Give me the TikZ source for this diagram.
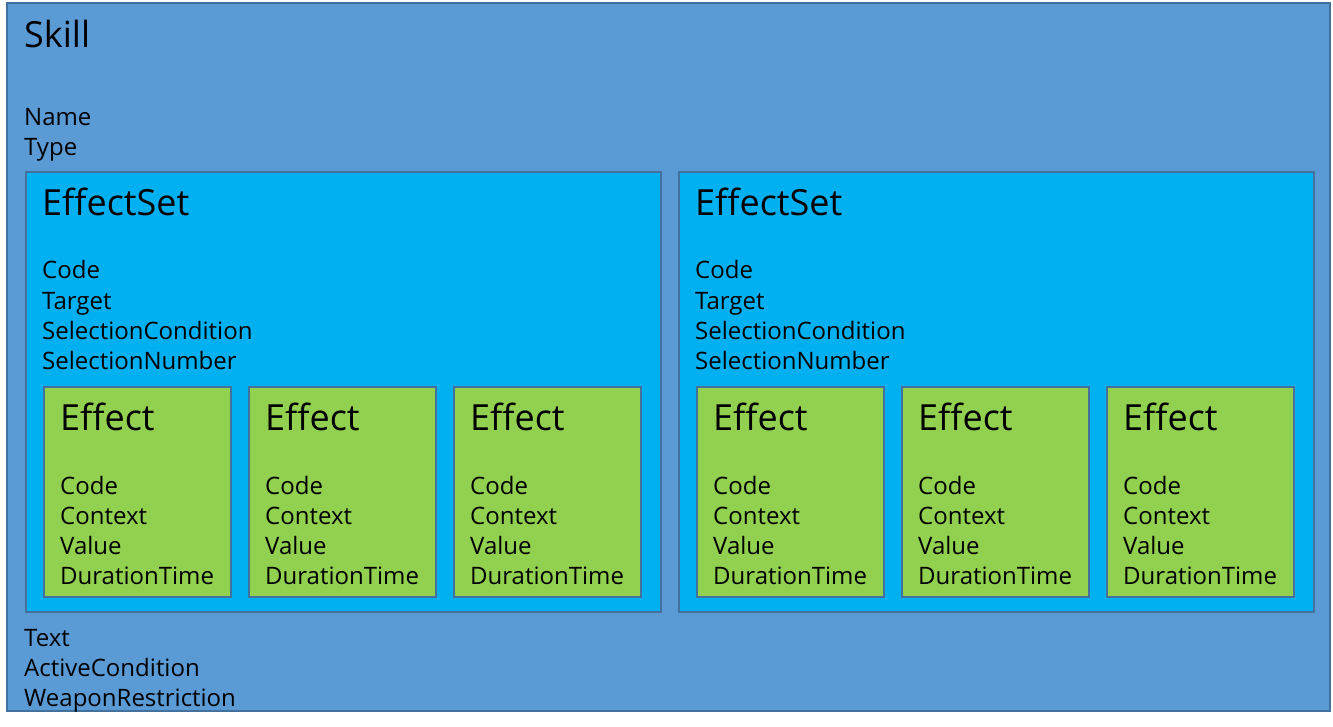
\documentclass[tikz,border=0pt]{standalone}
\usepackage{fontspec}
\setmainfont{Open Sans}
\definecolor{skillblue}{HTML}{5B9BD5}
\definecolor{setblue}{HTML}{00B0F0}
\definecolor{effgreen}{HTML}{92D050}
\definecolor{edgeblue}{HTML}{41719C}
\tikzset{
  box/.style={draw=edgeblue, line width=1.5pt},
  title/.style={anchor=base west, inner sep=0pt, font=\fontsize{36}{42}\selectfont},
  field/.style={anchor=base west, inner sep=0pt, font=\fontsize{24}{30}\selectfont},
}

\begin{document}
\begin{tikzpicture}[x=1pt,y=-1pt]
		\useasboundingbox (0,0) rectangle (1333,727);
		%%%%% SKILL %%%%%
		\draw[box, fill=skillblue] (7,3) rectangle (1330,711);
		\node[title] (skill) at (24,48) {Skill};
		\foreach \t [count=\i] in {Name,Type}
			\node[field] (skill-\i) at (24,96+30*\i) {\t};
		\foreach \t [count=\i] in {Text,ActiveCondition,WeaponRestriction}
			\node[field] (skill-end-\i) at (24,616+30*\i) {\t};
		
		%%%%% EFFECTSETS %%%%%
		\foreach \sx [count=\s] in {26,679} {
			\draw[box, fill=setblue] (\sx,172) rectangle ++(635,440);
			\node[title] (set-\s) at (\sx+16,216) {EffectSet};
			\foreach \t [count=\i] in {Code,Target,SelectionCondition,SelectionNumber}
				\node[field] (set-\s-\i) at (\sx+16,249+30*\i) {\t};
			
			%%%%% EFFECTS %%%%%
			\foreach \ex [count=\e] in {18,223,428} {
				\draw[box, fill=effgreen] (\sx+\ex,387) rectangle ++(187,210);
				\node[title] (effect-\s-\e) at (\sx+\ex+16,430) {Effect};
				\foreach \t [count=\i] in {Code,Context,Value,DurationTime}
					\node[field] (effect-\s-\e-\i) at (\sx+\ex+16,464+30*\i) {\t};
			}
		}
\end{tikzpicture}
\end{document}
